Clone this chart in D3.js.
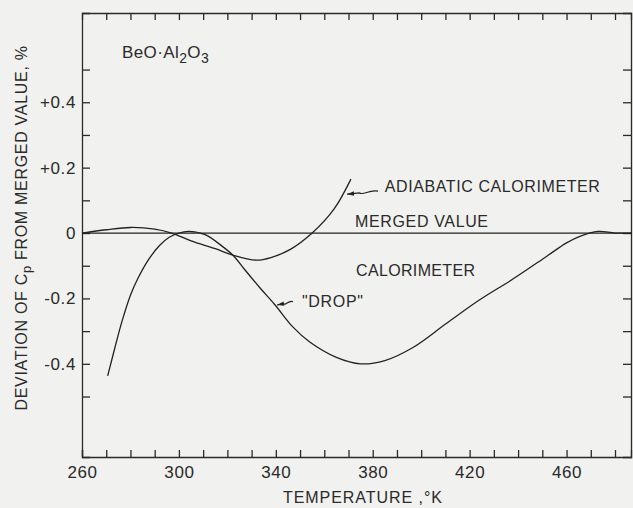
<!DOCTYPE html>
<html>
<head>
<meta charset="utf-8">
<script src="https://cdn.jsdelivr.net/npm/d3@7"></script>
<style>
  body { margin: 0; background: #f1f1ef; }
  svg { display: block; }
  text { font-family: "Liberation Sans", Arial, sans-serif; fill: #2a2a2a; }
  .axis path, .axis line { stroke: #2a2a2a; stroke-width: 1.3; }
  .axis text { font-size: 17px; letter-spacing: 0.6px; }
</style>
</head>
<body>
<svg id="chart" width="633" height="508"></svg>
<script>
// values
let adiabaticT = [260, 270, 280, 290, 297, 305, 315, 322, 332, 338, 346, 355, 364, 371];
let adiabaticV = [0, 0.01, 0.017, 0.012, 0, -0.024, -0.048, -0.067, -0.083, -0.075, -0.05, 0, 0.073, 0.165];

let dropT = [270.6, 273.6, 276.5, 280, 283, 287.6, 292, 296, 300, 304, 310.8, 317.8, 322.6, 327.3, 333.5,
             339.7, 347, 354, 365, 375, 385, 396.6, 410.5, 424, 438, 452, 460, 465.5, 473, 480, 487];
let dropV = [-0.437, -0.35, -0.27, -0.19, -0.14, -0.08, -0.038, -0.013, 0.0, 0.005, -0.005, -0.04, -0.07, -0.113, -0.168,
             -0.22, -0.287, -0.333, -0.38, -0.40, -0.39, -0.35, -0.276, -0.205, -0.14, -0.07, -0.03, -0.01, 0.005, 0.0, 0.0];

let mergedT = [260, 487];
let mergedV = [0, 0];

let xTicks = d3.range(260, 481, 10);
let xLabels = [260, 300, 340, 380, 420, 460];
let yTicks = [-0.5, -0.4, -0.3, -0.2, -0.1, 0, 0.1, 0.2, 0.3, 0.4, 0.5];
let yLabels = [-0.4, -0.2, 0, 0.2, 0.4];

// annotation anchors, in data units
let notes = [
    {text: 'ADIABATIC CALORIMETER', t: 385, v: 0.125, len: 215},
    {text: 'MERGED VALUE', t: 372.7, v: 0.018, len: 133},
    {text: 'CALORIMETER', t: 373.1, v: -0.132, len: 119},
    {text: '"DROP"', t: 350.8, v: -0.227, len: 61},
];
let arrows = [
    {from: [382.2, 0.128], to: [369.4, 0.119]},
    {from: [347.1, -0.21], to: [340.5, -0.22]},
];

let svg = d3.select('#chart');
let mLeft = 82, mRight = 631, mTop = 13, mBottom = 457;

let x = d3.scaleLinear().domain([260, 486.6]).range([mLeft, mRight]);
let y = d3.scaleLinear().domain([-0.685, 0.673]).range([mBottom, mTop]);

let fmt = function(v) {
    if (Math.abs(v) < 1e-9) return '0';
    let s = Math.abs(v).toFixed(1);
    return v > 0 ? '+' + s : '-' + s;
};

// frame axes, ticks pointing inward
svg.append('g').attr('class', 'axis')
    .attr('transform', `translate(0,${mBottom})`)
    .call(d3.axisBottom(x).tickValues(xTicks).tickSize(-7).tickPadding(9)
        .tickFormat(d => xLabels.includes(d) ? d : ''));
svg.append('g').attr('class', 'axis')
    .attr('transform', `translate(0,${mTop})`)
    .call(d3.axisTop(x).tickValues(xTicks.slice(1)).tickSize(-7).tickFormat(''));
svg.append('g').attr('class', 'axis')
    .attr('transform', `translate(${mLeft},0)`)
    .call(d3.axisLeft(y).tickValues(yTicks).tickSize(-8).tickPadding(6)
        .tickFormat(d => yLabels.some(l => Math.abs(l - d) < 1e-9) ? fmt(d) : ''));
svg.append('g').attr('class', 'axis')
    .attr('transform', `translate(${mRight},0)`)
    .call(d3.axisRight(y).tickValues(yTicks).tickSize(-8).tickFormat(''));
svg.selectAll('.axis .domain').attr('stroke-width', 1.4);

// curves
let line = d3.line()
    .x(d => x(d[0]))
    .y(d => y(d[1]))
    .curve(d3.curveCatmullRom.alpha(0.5));

let curves = [
    d3.zip(mergedT, mergedV),
    d3.zip(adiabaticT, adiabaticV),
    d3.zip(dropT, dropV),
];
svg.append('g').selectAll('path')
    .data(curves)
    .join('path')
        .attr('d', line)
        .attr('fill', 'none')
        .attr('stroke', '#222')
        .attr('stroke-width', 1.3);

// labels on the curves
svg.append('g').selectAll('text')
    .data(notes)
    .join('text')
        .attr('x', d => x(d.t))
        .attr('y', d => y(d.v))
        .attr('textLength', d => d.len)
        .attr('lengthAdjust', 'spacing')
        .style('font-size', '16px')
        .text(d => d.text);

// squiggly pointer arrows
svg.append('g').selectAll('g')
    .data(arrows)
    .join('g')
    .each(function(d) {
        let x0 = x(d.from[0]), y0 = y(d.from[1]);
        let x1 = x(d.to[0]), y1 = y(d.to[1]);
        let dx = x1 - x0, dy = y1 - y0;
        let g = d3.select(this);
        g.append('path')
            .attr('d', `M${x0},${y0} C${x0 + dx * 0.3},${y0 - 2} ${x0 + dx * 0.45},${y0 + dy * 0.5 + 3} ${x0 + dx * 0.6},${y0 + dy * 0.6} L${x1},${y1}`)
            .attr('fill', 'none').attr('stroke', '#222').attr('stroke-width', 1.2);
        let a = Math.atan2(dy, dx);
        let hl = 7, hw = 2.2;
        let p = [[x1, y1],
                 [x1 - hl * Math.cos(a) + hw * Math.sin(a), y1 - hl * Math.sin(a) - hw * Math.cos(a)],
                 [x1 - hl * Math.cos(a) - hw * Math.sin(a), y1 - hl * Math.sin(a) + hw * Math.cos(a)]];
        g.append('path').attr('d', 'M' + p.join('L') + 'Z').attr('fill', '#222');
    });

// title
let title = svg.append('text')
    .attr('x', x(276.5)).attr('y', y(0.535))
    .style('font-size', '17px')
    .style('letter-spacing', '0.4px');
title.append('tspan').text('BeO·Al');
title.append('tspan').attr('dy', 5).style('font-size', '14px').text('2');
title.append('tspan').attr('dy', -5).text('O');
title.append('tspan').attr('dy', 5).style('font-size', '14px').text('3');

// axis titles
svg.append('text')
    .attr('x', (mLeft + mRight) / 2 + 6).attr('y', 503)
    .attr('text-anchor', 'middle')
    .attr('textLength', 159).attr('lengthAdjust', 'spacing')
    .style('font-size', '16px')
    .text('TEMPERATURE ,°K');

let ylab = svg.append('text')
    .attr('transform', `translate(27,228) rotate(-90)`)
    .attr('text-anchor', 'middle')
    .style('font-size', '16px')
    .style('letter-spacing', '0.7px');
ylab.append('tspan').text('DEVIATION OF C');
ylab.append('tspan').attr('dy', 4).style('font-size', '13px').text('p');
ylab.append('tspan').attr('dy', -4).text(' FROM MERGED VALUE, %');
</script>
</body>
</html>
